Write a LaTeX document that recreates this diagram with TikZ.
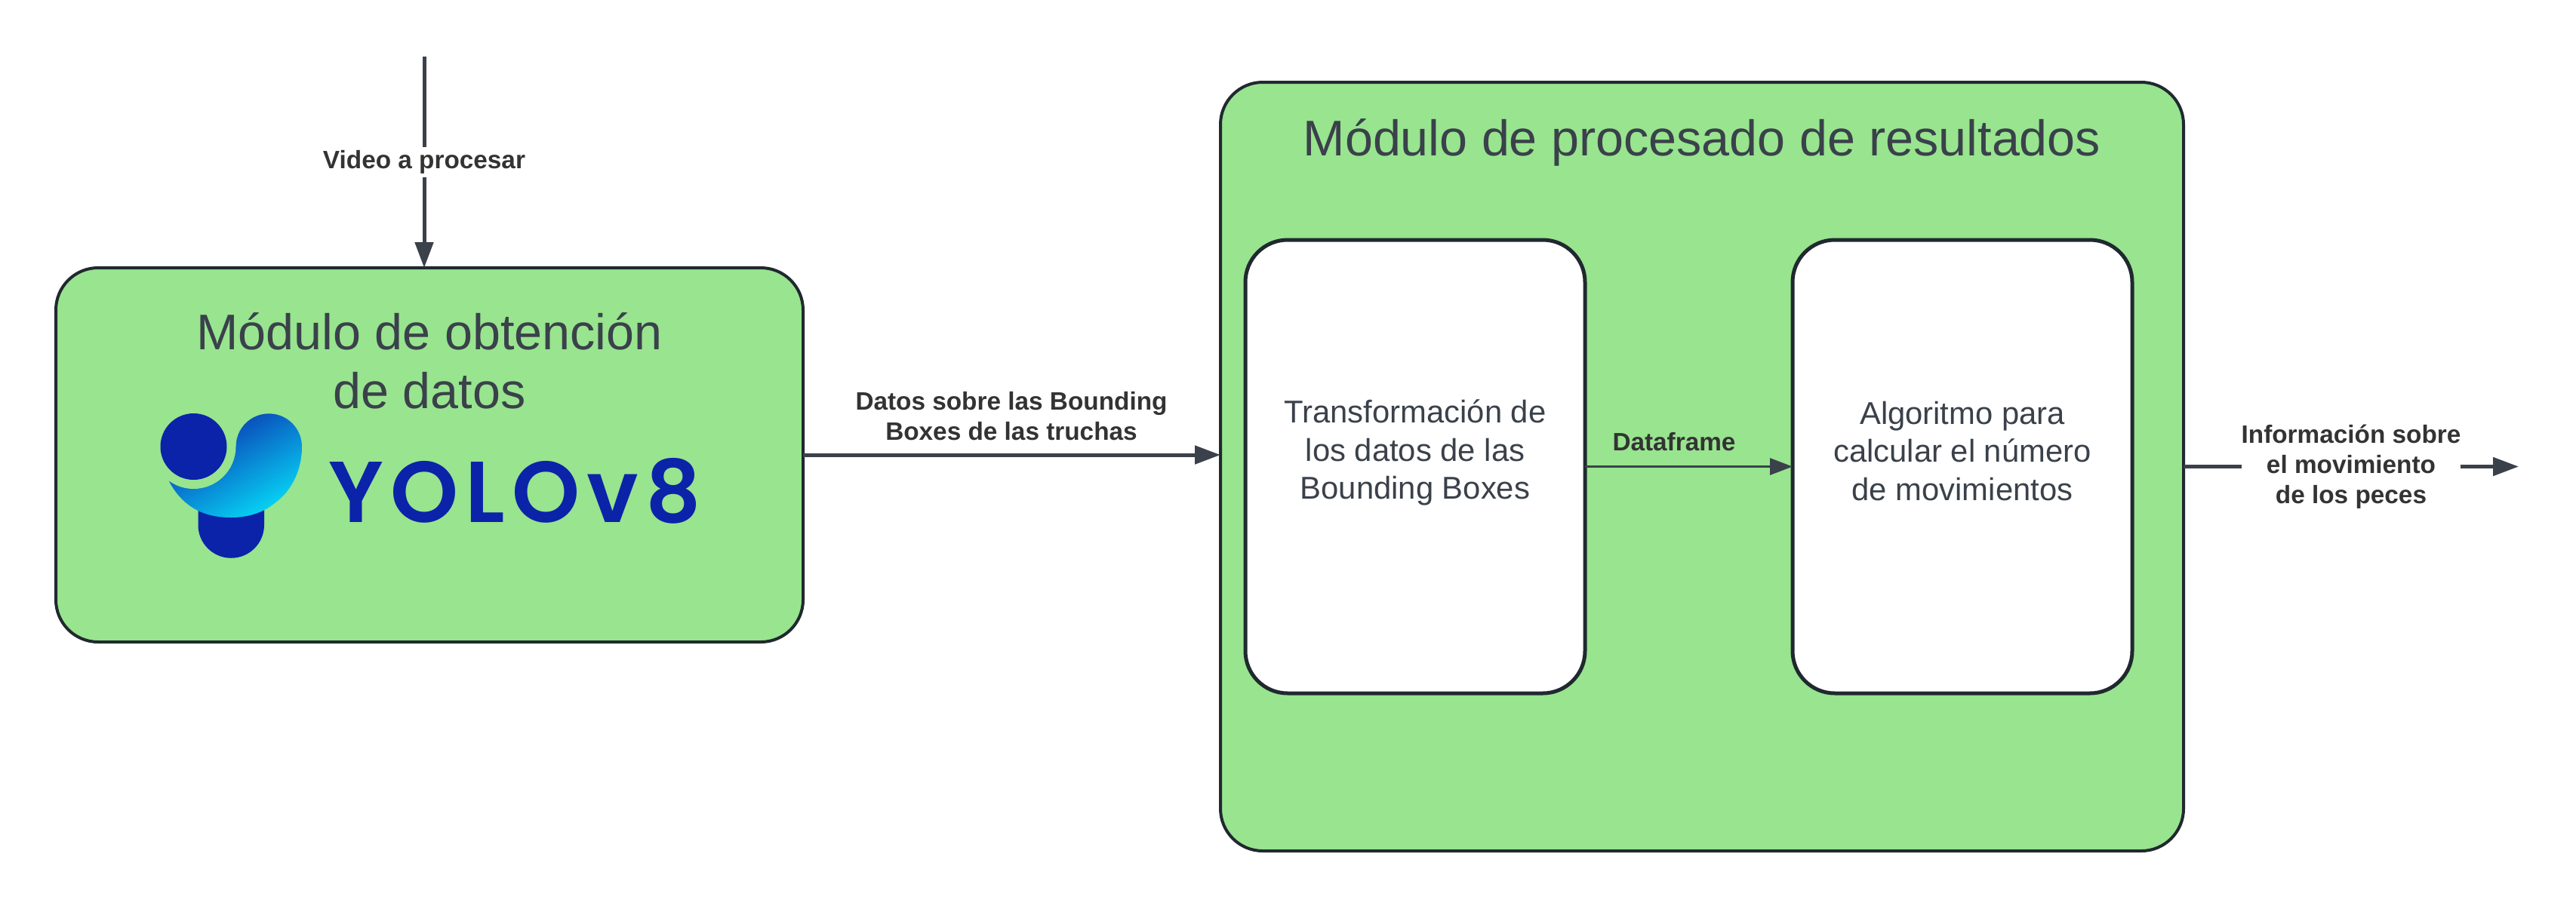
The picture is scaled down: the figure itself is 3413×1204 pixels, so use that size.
\documentclass[tikz,border=0pt]{standalone}
\usepackage{fontspec}
\setmainfont{Liberation Sans}
\newfontfamily\yolofont[LetterSpace=8]{Poppins SemiBold}
\usetikzlibrary{arrows.meta}
\def\PX{0.24pt}
\definecolor{boxgreen}{HTML}{98E48F}
\definecolor{stroke}{HTML}{20292F}
\definecolor{linecol}{HTML}{3A414A}
\definecolor{labelcol}{HTML}{333333}
\definecolor{yoloblue}{HTML}{0B23A9}
\definecolor{yolocyan}{HTML}{06E0FA}
\tikzset{
  greenbox/.style={draw=stroke,fill=boxgreen,line width=4*\PX,rounded corners=56*\PX,outer sep=0pt,inner sep=0pt},
  whitebox/.style={draw=stroke,fill=white,line width=5*\PX,rounded corners=56*\PX,outer sep=0pt,inner sep=0pt,
     minimum width=450*\PX,minimum height=601*\PX},
  titletext/.style={text=linecol,align=center,inner sep=0pt,font=\fontsize{15.95}{18.72}\selectfont},
  bodytext/.style={text=linecol,align=center,inner sep=0pt,font=\fontsize{10.03}{12.1}\selectfont},
  flowlabel/.style={text=labelcol,align=center,inner sep=0pt,font=\bfseries\fontsize{8}{9.6}\selectfont},
  flow/.style={draw=linecol,line width=5*\PX,-{Triangle[length=34*\PX,width=24*\PX]}},
  thinflow/.style={draw=linecol,line width=3*\PX,-{Triangle[length=30*\PX,width=22*\PX]}}
}
\begin{document}
\begin{tikzpicture}[x=0.24pt,y=-0.24pt]
\useasboundingbox (0,0) rectangle (3413,1204);
\fill[white] (0,0) rectangle (3413,1204);

% boxes
\node[greenbox,minimum width=990*\PX,minimum height=496*\PX] (obt) at (569,603) {};
\node[greenbox,minimum width=1276*\PX,minimum height=1019*\PX] (proc) at (2255,618.5) {};
\node[whitebox] (trans) at (1875,618.5) {};
\node[whitebox] (algo) at (2600,618.5) {};

% titles and box texts
\node[titletext] (obttitle) at (569,478) {Módulo de obtención\\de datos};
\node[titletext] (proctitle) at (2255,189) {Módulo de procesado de resultados};
\node[bodytext] (transtext) at (1875,600) {Transformación de\\los datos de las\\Bounding Boxes};
\node[bodytext] (algotext) at (2600,598) {Algoritmo para\\calcular el número\\de movimientos};

% YOLO logo
\fill[yoloblue] (262.5,670) -- (262.5,696) arc[start angle=180,end angle=0,radius=43.75] -- (350,670) -- cycle;
\begin{scope}
  \clip (224,638) -- (256,600) -- (312.6,592)
     arc[start angle=180,end angle=360,radius=43.7]
     .. controls (400,625) and (385,652) .. (364,667)
     .. controls (348,680) and (328,686) .. (306,686)
     .. controls (265,686) and (240,668) .. (224,638) -- cycle;
  \shade[left color=yoloblue,right color=yolocyan,shading angle=30] (210,540) rectangle (410,695);
\end{scope}
\fill[boxgreen] (256.5,592) circle[radius=56];
\fill[yoloblue] (256.5,592) circle[radius=44];
\node[text=yoloblue,inner sep=0pt,anchor=center,font=\yolofont\fontsize{27.5}{30}\selectfont] (yolotext) at (682,651) {YOLOv8};

% connectors
\coordinate (videostart) at (562,75);
\coordinate (flowend) at (3337,618.5);
\draw[flow] (videostart) -- node[pos=0.5,fill=white,text=labelcol,align=center,inner xsep=0pt,inner ysep=1pt,font=\bfseries\fontsize{8}{9.6}\selectfont] (videolabel) {Video a procesar} (obt.north -| videostart);
\draw[flow] (obt.east) -- (proc.west |- obt.east);
\node[flowlabel] (datostext) at (1340,552) {Datos sobre las Bounding\\Boxes de las truchas};
\draw[thinflow] (trans.east) -- (algo.west);
\node[flowlabel] (dflabel) at (2218,586) {Dataframe};
\draw[flow] (proc.east) -- node[pos=0.5,fill=white,text=labelcol,align=center,inner xsep=0pt,inner ysep=2pt,font=\bfseries\fontsize{8}{9.6}\selectfont] (infolabel) {Información sobre\\el movimiento\\de los peces} (flowend);
\end{tikzpicture}
\end{document}
